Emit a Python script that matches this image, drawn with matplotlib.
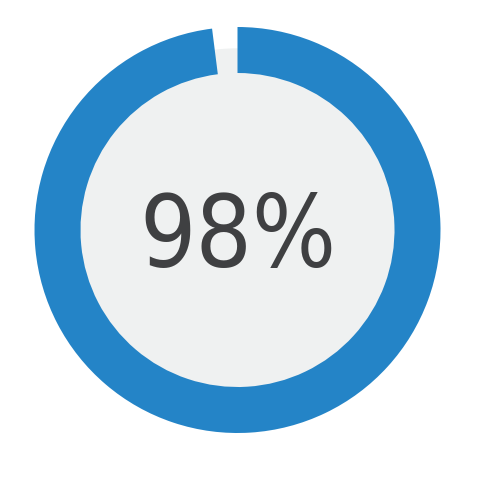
import matplotlib.pyplot as plt
from matplotlib.patches import Circle

# share of the ring
values = [98, 2]
label = "98%"

fig = plt.figure(figsize=(5, 5), dpi=100)
ax = fig.add_axes([0, 0, 1, 1])
ax.set_xlim(0, 500)
ax.set_ylim(0, 500)
ax.set_aspect("equal")
ax.axis("off")

cx, cy = 237.5, 270

# light grey disc behind the ring
ax.add_patch(Circle((cx, cy), 181, color="#eff1f1", zorder=1))

wedges, _ = ax.pie(values, colors=["#2484c7", "none"], startangle=90,
                   counterclock=False, radius=203, center=(cx, cy),
                   wedgeprops=dict(width=46, linewidth=0))
for w in wedges:
    w.set_zorder(2)
ax.set_xlim(0, 500)
ax.set_ylim(0, 500)

ax.text(cx, 233, label, ha="center", va="baseline", fontsize=71,
        family="DejaVu Sans", stretch="condensed", color="#3f4042",
        zorder=3)

fig.savefig("out.png", dpi=100)
